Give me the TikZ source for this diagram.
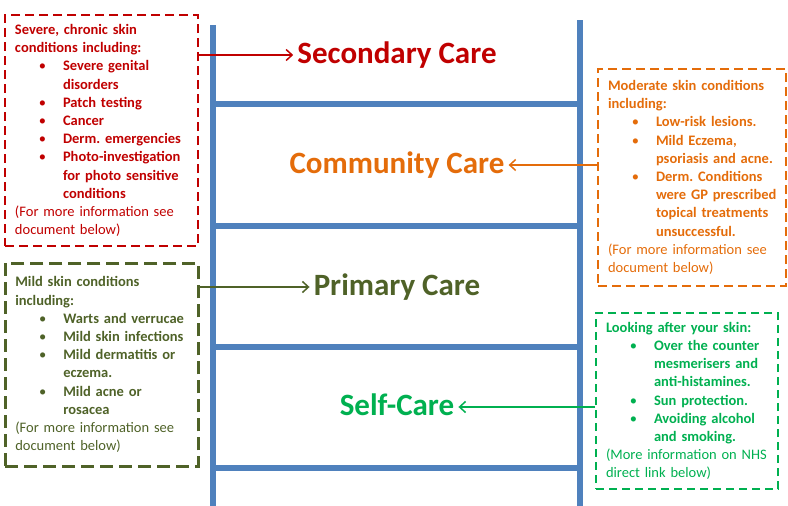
\documentclass[tikz,border=0pt]{standalone}
\usepackage{fontspec}
\setmainfont{Carlito}
\usetikzlibrary{positioning, arrows.meta}
\definecolor{ladderblue}{HTML}{4F81BD}
\definecolor{secred}{HTML}{C00000}
\definecolor{comorange}{HTML}{E46C0A}
\definecolor{primolive}{HTML}{4F6228}
\definecolor{selfgreen}{HTML}{00B050}
\newcommand{\itm}[1]{\par{\leftskip=48pt\noindent\llap{\textbullet\hspace{17pt}}#1\par}}
\frenchspacing
\hyphenpenalty=10000
\exhyphenpenalty=10000

\begin{document}
\begin{tikzpicture}[x=1pt, y=-1pt,
  rail/.style={ladderblue, line width=6pt},
  care/.style={font=\fontsize{31}{36}\selectfont\bfseries, anchor=base, inner sep=4pt, text height=22pt, text depth=6pt},
  infobox/.style={draw, dash pattern=on 9pt off 5pt, line width=2pt, anchor=north west, inner xsep=10pt, inner ysep=0pt, align=left,
    font=\fontsize{14.5}{18.2}\selectfont},
  link/.style={-{Straight Barb[length=6pt,width=11pt]}, line width=1.5pt}]
\useasboundingbox (0,0) rectangle (788,506);

% ladder
\coordinate (lt) at (213,25);
\coordinate (lb) at (213,506);
\coordinate (rt) at (580,20);
\coordinate (rb) at (580,506);
\draw[rail] (lt) -- (lb);
\draw[rail] (rt) -- (rb);
\foreach \y in {104,226,347,468}
  \draw[rail] (lt |- 0,\y) -- (rt |- 0,\y);

% levels of care
\node[care, secred] (sec) at (397,63) {Secondary Care};
\node[care, comorange] (com) at (397,173) {Community  Care};
\node[care, primolive] (prim) at (397,295) {Primary  Care};
\node[care, selfgreen] (self) at (397,415) {Self-Care};

% boxes
\node[infobox, secred, text width=173pt, minimum height=231pt] (sevbox) at (4,14) {%
{\bfseries Severe, chronic skin\\conditions including:}
\itm{\bfseries Severe genital\\disorders}
\itm{\bfseries Patch testing}
\itm{\bfseries Cancer}
\itm{\bfseries Derm. emergencies}
\itm{\bfseries Photo-investigation\\for photo sensitive\\conditions}
(For more information see\\document below)};

\node[infobox, primolive, dash pattern=on 13pt off 6pt, line width=2.6pt, text width=173pt, minimum height=203pt] (mildbox) at (4,262) {%
{\bfseries Mild skin conditions\\including:}
\itm{\bfseries Warts and verrucae}
\itm{\bfseries Mild skin infections}
\itm{\bfseries Mild dermatitis or\\eczema.}
\itm{\bfseries Mild acne or\\rosacea}
(For more information see\\document below)};

\node[infobox, comorange, text width=168pt, minimum height=217pt] (modbox) at (597,68) {%
{\bfseries Moderate skin conditions\\including:}
\itm{\bfseries Low-risk lesions.}
\itm{\bfseries Mild Eczema,\\psoriasis and acne.}
\itm{\bfseries Derm. Conditions\\\mbox{were GP prescribed}\\topical treatments\\unsuccessful.}
(For more information see\\document below)};

\node[infobox, selfgreen, dash pattern=on 8pt off 5pt, text width=162pt, minimum height=176pt] (skinbox) at (595,312) {%
{\bfseries Looking after your skin:}
\itm{\bfseries Over the counter\\mesmerisers and\\anti-histamines.}
\itm{\bfseries Sun protection.}
\itm{\bfseries Avoiding alcohol\\and smoking.}
(More information on NHS\\direct link below)};

% arrows
\draw[link, secred] (sevbox.east |- sec) -- (sec.west);
\draw[link, primolive] (mildbox.east |- prim) -- (prim.west);
\draw[link, comorange] (modbox.west |- com) -- (com.east);
\draw[link, selfgreen] (skinbox.west |- self) -- (self.east);

\end{tikzpicture}
\end{document}
